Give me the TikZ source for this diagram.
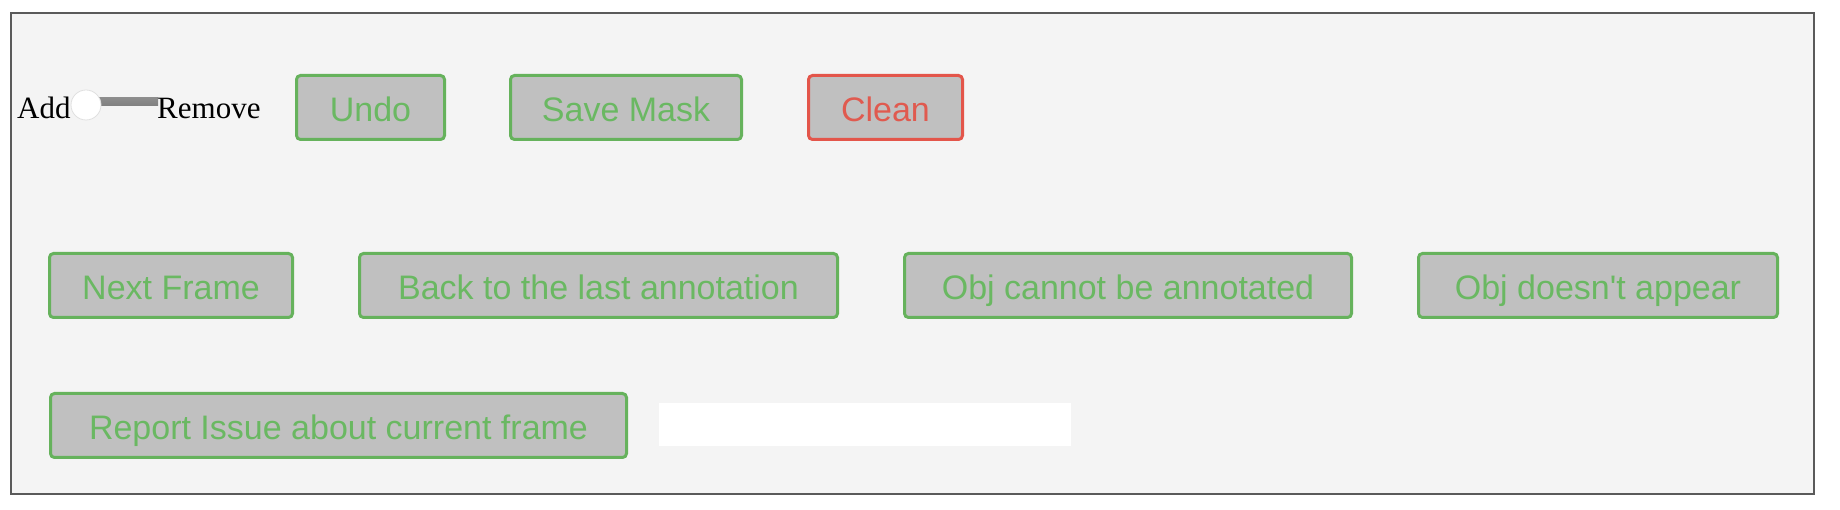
\documentclass[tikz,border=0pt]{standalone}
\usepackage{fontspec}
\setmainfont{Liberation Serif}
\newfontfamily\btnfont{Liberation Sans}
\definecolor{panelbg}{HTML}{F4F4F4}
\definecolor{framegray}{HTML}{5A5A5A}
\definecolor{btnfill}{HTML}{C0C0C0}
\definecolor{btngreen}{HTML}{66B25C}
\definecolor{txtgreen}{HTML}{6AB862}
\definecolor{btnred}{HTML}{E3554A}
\definecolor{txtred}{HTML}{E05A4F}
\begin{document}
\begin{tikzpicture}[x=1pt,y=-1pt,
  btn/.style={draw=btngreen, line width=3pt, fill=btnfill, rounded corners=4pt,
    inner sep=0pt, text=txtgreen, minimum height=64pt,
    text height=28pt, text depth=0pt,
    font=\btnfont\fontsize{34}{40}\selectfont},
  redbtn/.style={btn, draw=btnred, text=txtred},
  lbl/.style={inner sep=0pt, anchor=base west, font=\fontsize{31}{36}\selectfont}]
\useasboundingbox (0,0) rectangle (1840,510);
\fill[white] (0,0) rectangle (1840,510);
\draw[framegray, line width=2pt, fill=panelbg] (11,13) rectangle (1814,494);
% slider
\shade[top color=black!45, middle color=black!90, bottom color=black!50] (97,98) rectangle (158,106);
\node[lbl] (add) at (17,119) {Add};
\node[circle, fill=white, draw=black!12, line width=0.8pt, minimum size=30pt, inner sep=0pt] (knob) at (86,105) {};
\node[lbl] (remove) at (157,119) {Remove};
% row 1
\node[btn, minimum width=148pt] (undo) at (370.5,107.5) {Undo};
\node[btn, minimum width=231pt] (save) at (626,107.5) {Save Mask};
\node[redbtn, minimum width=154pt] (clean) at (885.5,107.5) {Clean};
% row 2
\node[btn, minimum width=243pt] (next) at (171,285.5) {Next Frame};
\node[btn, minimum width=478pt] (back) at (598.5,285.5) {Back to the last annotation};
\node[btn, minimum width=447pt] (cannot) at (1128,285.5) {Obj cannot be annotated};
\node[btn, minimum width=359pt] (noappear) at (1598,285.5) {Obj doesn't appear};
% row 3
\node[btn, minimum width=576pt] (report) at (338.5,425.5) {Report Issue about current frame};
\node[fill=white, minimum width=412pt, minimum height=43pt, inner sep=0pt] (issuebox) at (865,424.5) {};
\end{tikzpicture}
\end{document}
